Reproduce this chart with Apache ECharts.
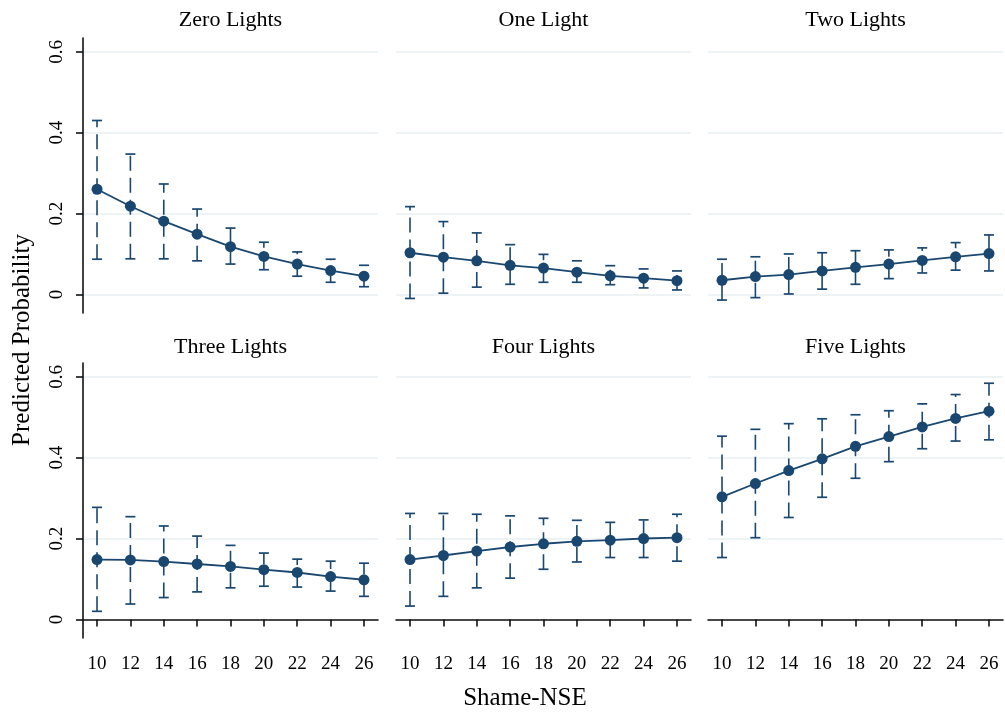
<!DOCTYPE html>
<html>
<head>
<meta charset="utf-8">
<script src="https://cdn.jsdelivr.net/npm/echarts@6/dist/echarts.min.js"></script>
<style>
html,body{margin:0;padding:0;background:#fff;}
#chart{width:1005px;height:713px;}
</style>
</head>
<body>
<div id="chart"></div>
<script>
const xValues = [10, 12, 14, 16, 18, 20, 22, 24, 26];
const yTicks = [0, 0.2, 0.4, 0.6];
const panelTitles = ['Zero Lights', 'One Light', 'Two Lights', 'Three Lights', 'Four Lights', 'Five Lights'];

const zeroMean = [0.260, 0.218, 0.181, 0.149, 0.118, 0.094, 0.075, 0.059, 0.045];
const zeroLow  = [0.087, 0.088, 0.088, 0.083, 0.075, 0.061, 0.045, 0.030, 0.019];
const zeroHigh = [0.430, 0.347, 0.273, 0.211, 0.164, 0.129, 0.105, 0.087, 0.072];

const oneMean = [0.103, 0.092, 0.083, 0.072, 0.065, 0.055, 0.046, 0.040, 0.034];
const oneLow  = [-0.010, 0.003, 0.018, 0.025, 0.030, 0.030, 0.024, 0.016, 0.011];
const oneHigh = [0.217, 0.180, 0.152, 0.123, 0.099, 0.083, 0.071, 0.063, 0.058];

const twoMean = [0.035, 0.044, 0.049, 0.058, 0.067, 0.075, 0.084, 0.093, 0.101];
const twoLow  = [-0.014, -0.008, 0.001, 0.013, 0.025, 0.039, 0.053, 0.060, 0.058];
const twoHigh = [0.087, 0.093, 0.100, 0.103, 0.108, 0.110, 0.115, 0.128, 0.147];

const threeMean = [0.148, 0.147, 0.143, 0.137, 0.131, 0.123, 0.116, 0.106, 0.098];
const threeLow  = [0.020, 0.038, 0.054, 0.068, 0.078, 0.082, 0.080, 0.070, 0.057];
const threeHigh = [0.277, 0.254, 0.231, 0.206, 0.183, 0.164, 0.149, 0.144, 0.139];

const fourMean = [0.148, 0.158, 0.169, 0.179, 0.187, 0.193, 0.196, 0.200, 0.202];
const fourLow  = [0.033, 0.057, 0.078, 0.102, 0.124, 0.142, 0.153, 0.153, 0.144];
const fourHigh = [0.262, 0.262, 0.260, 0.256, 0.250, 0.245, 0.240, 0.246, 0.260];

const fiveMean = [0.303, 0.336, 0.368, 0.397, 0.428, 0.452, 0.476, 0.497, 0.515];
const fiveLow  = [0.153, 0.202, 0.252, 0.302, 0.349, 0.390, 0.422, 0.441, 0.444];
const fiveHigh = [0.453, 0.470, 0.484, 0.496, 0.506, 0.516, 0.533, 0.556, 0.584];

const panels = [
  [zeroMean, zeroLow, zeroHigh],
  [oneMean, oneLow, oneHigh],
  [twoMean, twoLow, twoHigh],
  [threeMean, threeLow, threeHigh],
  [fourMean, fourLow, fourHigh],
  [fiveMean, fiveLow, fiveHigh]
];

const NAVY = '#1a476f';
const FONT = '"Liberation Serif", "Times New Roman", serif';
const colLeft = [83, 396, 708];
const colWidth = 295;
const rowTop = [38, 363];
const rowHeight = 275;

const grids = [], xAxes = [], yAxes = [], series = [], graphics = [];

panels.forEach((p, i) => {
  const row = Math.floor(i / 3), col = i % 3;
  grids.push({left: colLeft[col], top: rowTop[row], width: colWidth, height: rowHeight, containLabel: false});
  const bottom = row === 1;
  xAxes.push({
    gridIndex: i, type: 'value', min: 9.16, max: 26.84, show: bottom,
    axisLine: {show: bottom, lineStyle: {color: '#111', width: 1.6}},
    axisTick: {show: bottom, length: 7, customValues: xValues, lineStyle: {color: '#111', width: 1.6}},
    axisLabel: {show: bottom, customValues: xValues, fontSize: 19, fontFamily: FONT, color: '#000', margin: 17},
    splitLine: {show: false}
  });
  const left = col === 0;
  yAxes.push({
    gridIndex: i, type: 'value', min: -0.046, max: 0.634,
    axisLine: {show: left, lineStyle: {color: '#111', width: 1.6}},
    axisTick: {show: left, length: 7, customValues: yTicks, lineStyle: {color: '#111', width: 1.6}},
    axisLabel: {show: left, customValues: yTicks, rotate: 90, fontSize: 19, fontFamily: FONT, color: '#000', margin: 16,
      formatter: v => (Math.abs(v) < 1e-9 ? '0' : v.toFixed(1))},
    splitLine: {show: true, lineStyle: {color: '#e8f0f2', width: 1.5}}
  });
  const [mean, low, high] = p;
  series.push({
    type: 'custom', xAxisIndex: i, yAxisIndex: i, z: 2,
    data: xValues.map((x, j) => [x, low[j], high[j]]),
    encode: {x: 0, y: [1, 2]},
    renderItem: (params, api) => {
      const x = api.value(0);
      const pLo = api.coord([x, api.value(1)]);
      const pHi = api.coord([x, api.value(2)]);
      const hw = 5;
      return {type: 'group', children: [
        {type: 'line', shape: {x1: pLo[0], y1: pLo[1], x2: pHi[0], y2: pHi[1]}, style: {stroke: NAVY, lineWidth: 1.6, lineDash: [15, 7]}},
        {type: 'line', shape: {x1: pHi[0] - hw, y1: pHi[1], x2: pHi[0] + hw, y2: pHi[1]}, style: {stroke: NAVY, lineWidth: 1.7}},
        {type: 'line', shape: {x1: pLo[0] - hw, y1: pLo[1], x2: pLo[0] + hw, y2: pLo[1]}, style: {stroke: NAVY, lineWidth: 1.7}}
      ]};
    }
  });
  series.push({
    type: 'line', xAxisIndex: i, yAxisIndex: i, z: 3,
    data: xValues.map((x, j) => [x, mean[j]]),
    symbol: 'circle', symbolSize: 11, showSymbol: true,
    lineStyle: {color: NAVY, width: 1.8},
    itemStyle: {color: NAVY}
  });
  graphics.push({
    type: 'text', x: colLeft[col] + colWidth / 2, y: row === 0 ? 20 : 347,
    style: {text: panelTitles[i], font: '22px ' + FONT, fill: '#000', textAlign: 'center', textVerticalAlign: 'middle'}
  });
});

graphics.push({
  type: 'text', x: 22, y: 340, rotation: Math.PI / 2,
  style: {text: 'Predicted Probability', font: '25px ' + FONT, fill: '#000', textAlign: 'center', textVerticalAlign: 'middle'}
});
graphics.push({
  type: 'text', x: 525, y: 698,
  style: {text: 'Shame-NSE', font: '25px ' + FONT, fill: '#000', textAlign: 'center', textVerticalAlign: 'middle'}
});

const chart = echarts.init(document.getElementById('chart'));
chart.setOption({
  animation: false,
  backgroundColor: '#fff',
  grid: grids, xAxis: xAxes, yAxis: yAxes, series: series, graphic: graphics
});
</script>
</body>
</html>
